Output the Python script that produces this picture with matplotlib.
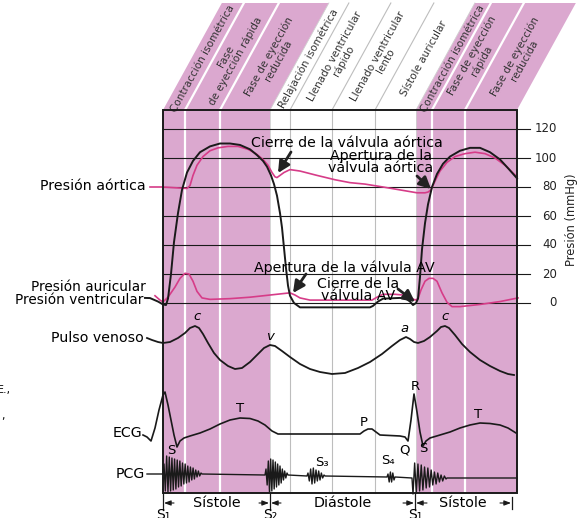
import numpy as np
import matplotlib
matplotlib.use("Agg")
import matplotlib.pyplot as plt
from matplotlib.patches import Polygon, Rectangle

plt.rcParams['font.family'] = ['DejaVu Sans']

# ---------------- data ----------------
pressure_ticks = [0, 20, 40, 60, 80, 100, 120]

# ventricular pressure (mmHg) vs time (px units of the time axis)
t_vent = [145, 150, 158, 163, 166, 168, 171, 174, 178, 182, 187, 193, 200, 210, 220, 230, 240, 250,
          257, 263, 267, 271, 274, 277, 280, 282, 284, 286, 288, 290, 294, 300, 370, 373, 378, 383,
          400, 406, 410, 413, 416, 418, 420, 422, 425, 428, 432, 437, 443, 450, 460, 470, 480, 490,
          500, 508, 517]
p_vent = [3.5, 3.4, 1.0, -1.0, -1.4, 3, 20, 42, 62, 78, 90, 98, 104, 108, 110, 110, 109, 106,
          102, 98, 94, 88, 82, 74, 62, 52, 38, 24, 12, 5, 0, -3, -3, -2, 1, 3,
          3.5, 3, 1, -1.4, 0, 3, 18, 37, 55, 68, 80, 89, 96, 101, 105, 107, 107, 104,
          99, 93, 86]

# aortic pressure (mmHg)
t_aor = [150, 163, 175, 187, 190, 193, 197, 203, 210, 218, 228, 238, 248, 256, 263, 268, 272, 275,
         277, 280, 284, 290, 300, 317, 335, 350, 365, 383, 400, 417, 425, 428, 431, 435, 440, 447,
         455, 465, 475, 485, 495, 505, 517]
p_aor = [80, 80, 79.5, 79, 81, 88, 95, 101, 105, 107, 108, 108, 106, 103, 99, 95, 90, 87,
         86.5, 88, 90, 92, 91, 88, 85, 83, 82, 80, 78, 76, 76, 76.5, 78, 84, 91, 97,
         101, 103, 104, 103, 100, 95, 87]

# atrial pressure (mmHg)
t_atr = [155, 160, 163, 168, 175, 180, 185, 189, 193, 197, 202, 210, 230, 250, 270, 290, 295, 300,
         310, 340, 372, 377, 383, 395, 403, 410, 415, 418, 421, 425, 429, 433, 437, 442, 447, 452,
         460, 480, 500, 518]
p_atr = [5, 2, 0.7, 4, 11, 17, 20.5, 20, 15, 8, 3.5, 2.5, 3, 4, 5.5, 7, 5.5, 3.5,
         2, 2, 2, 4, 6, 6, 5.5, 4, 2, 3, 9, 15, 17, 17, 15, 7, 0.5, -2.5,
         -2.5, -1, 1, 3.5]

# venous pulse (px above its baseline)
t_ven = [147, 152, 158, 163, 170, 178, 185, 190, 195, 199, 203, 208, 214, 220, 228, 235, 242, 250,
         258, 264, 270, 275, 282, 290, 300, 310, 320, 332, 345, 358, 370, 382, 392, 400, 406, 410,
         414, 418, 424, 430, 437, 441, 445, 449, 455, 462, 470, 480, 490, 500, 508, 514]
v_ven = [7, 5, 3, 2, 3, 7, 12, 17, 19, 17, 11, 2, -8, -15, -21, -24, -23, -17,
         -9, -3, 0, -1, -6, -12, -19, -24, -27, -29, -28, -23, -17, -9, -1, 5, 8, 6,
         3, 2, 4, 8, 14, 18, 19, 17, 10, 1, -7, -15, -21, -26, -29, -30]

# ECG (px above baseline)
t_ecg = [143, 147, 151, 155, 159, 163, 165, 168, 171, 174, 177, 180, 184, 190, 200, 210, 220, 230,
         240, 250, 258, 265, 272, 278, 360, 364, 368, 372, 376, 380, 400, 405, 408, 411, 414, 417,
         420, 423, 426, 430, 440, 450, 460, 470, 480, 490, 500, 508, 516]
v_ecg = [-1, -3, -7, 6, 24, 39, 42, 29, 14, -1, -13, -7, -4, -2, 1, 5, 10, 14,
         16, 15.5, 13, 9, 3, 0, 0, 3, 5, 5, 2, -1, -2, -3, -7, 14, 40, 22,
         2, -12, -7, -4, -1, 2, 6, 9, 11, 10.5, 9, 6, 1]

# PCG heart-sound bursts: (start, end, signed amplitudes in px, + = up)
pcg_bursts = {
    "S1": (163, 202, [10, -17, 18, -18, 17, -17, 16, -16, 15, -15, 14, -13, 13, -12, 11, -10, 10, -9,
                      8, -8, 7, -6, 6, -5, 4, -3, 3, -2, 1]),
    "S2": (265, 288, [6, -10, 14, -17, 16, -16, 15, -14, 13, -12, 11, -10, 9, -8, 6, -5, 4, -3, 2]),
    "S3": (307, 325, [3, -5, 7, -8, 8, -7, 6, -5, 5, -4, 3, -2, 1]),
    "S4": (387, 395, [3, -5, 5, -5, 4, -3]),
    "S1b": (412, 447, [-16, 15, -15, 14, -13, 13, -12, 11, -10, 10, -9, 8, -7, 6, -6, 5, -4, 3, -3, 2, -1]),
}
pcg_base = {"pre": 474, "S1": 474, "S2": 475, "S3": 476, "S4": 477, "S1b": 478}

phase_bounds = [163, 185, 220, 270, 290, 332, 375, 416, 432, 465, 517]
phase_pink = [True, True, True, False, False, False, False, True, True, True]
phase_labels = ["Contracción isométrica", "Fase\nde eyección rápida", "Fase de eyección\nreducida",
                "Relajación isométrica", "Llenado ventricular\nrápido", "Llenado ventricular\nlento",
                "Sístole auricular", "Contracción isométrica", "Fase de eyección\nrápida",
                "Fase de eyección\nreducida"]

# ---------------- layout ----------------
W, H = 579, 518
FL, FR, FT, FB = 163, 517, 110, 493       # frame
P0_Y, PX_PER_MMHG = 303, 1.45
VEN_BASE, ECG_BASE = 345, 434
HEAD_TOP, SLANT = 3, 0.55
PINK = "#dba8cf"
MAG = "#d63c88"
INK = "#1a1a1a"

def py(p):
    return P0_Y - PX_PER_MMHG * np.asarray(p, dtype=float)

fig = plt.figure(figsize=(W / 100, H / 100), dpi=100)
ax = fig.add_axes([0, 0, 1, 1])
ax.set_xlim(0, W)
ax.set_ylim(H, 0)
ax.axis("off")

# ---- slanted header + frame background
dx = (FT - HEAD_TOP) * SLANT
for i in range(len(phase_bounds) - 1):
    x0, x1 = phase_bounds[i], phase_bounds[i + 1]
    if phase_pink[i]:
        ax.add_patch(Polygon([(x0, FT), (x1, FT), (x1 + dx, HEAD_TOP), (x0 + dx, HEAD_TOP)],
                             closed=True, fc=PINK, ec="none", zorder=0))
        ax.add_patch(Rectangle((x0, FT), x1 - x0, FB - FT, fc=PINK, ec="none", zorder=0))

for i, xb in enumerate(phase_bounds[1:-1], start=1):
    pink_side = phase_pink[i - 1] and phase_pink[i]
    col = "white" if pink_side else "#bdbdbd"
    lw = 1.6 if pink_side else 0.8
    if xb in (270, 416):
        col, lw = "#d0d0d0", 0.6
    ax.plot([xb, xb + dx], [FT, HEAD_TOP], color=col, lw=lw, zorder=1)
    ax.plot([xb, xb], [FT, FB], color=col, lw=lw, zorder=1)

for i, lab in enumerate(phase_labels):
    x0, x1 = phase_bounds[i], phase_bounds[i + 1]
    ym = (FT + HEAD_TOP) / 2 + 2
    xm = (x0 + x1) / 2 + (FT - ym) * SLANT
    ax.text(xm, ym, lab, rotation=61, rotation_mode="anchor", ha="center", va="center",
            fontsize=7.5, color="#333333", linespacing=1.0, zorder=3)

# ---- frame
ax.add_patch(Rectangle((FL, FT), FR - FL, FB - FT, fc="none", ec=INK, lw=1.4, zorder=6))

# ---- pressure grid + ticks
for p in pressure_ticks:
    ax.plot([FL, 530], [py(p), py(p)], color=INK, lw=0.8, zorder=2)
    ax.text(557, py(p), str(p), ha="right", va="center", fontsize=8.5, color="#222222")
ax.text(571, 220, "Presión (mmHg)", rotation=90, ha="center", va="center", fontsize=8.3, color="#222222")

# ---- pressure curves
ax.plot(t_aor, py(p_aor), color=MAG, lw=1.2, zorder=4, solid_joinstyle="round")
ax.plot(t_atr, py(p_atr), color=MAG, lw=1.2, zorder=4, solid_joinstyle="round")
ax.plot(t_vent, py(p_vent), color=INK, lw=1.4, zorder=5, solid_joinstyle="round")

# ---- venous pulse
ax.plot(t_ven, VEN_BASE - np.asarray(v_ven), color=INK, lw=1.3, zorder=5, solid_joinstyle="round")

# ---- ECG
ax.plot(t_ecg, ECG_BASE - np.asarray(v_ecg), color=INK, lw=1.2, zorder=5, solid_joinstyle="round")

# ---- PCG
xs, ys = [147, 160], [pcg_base["pre"], pcg_base["pre"]]
for k in ["S1", "S2", "S3", "S4", "S1b"]:
    x0, x1, amps = pcg_bursts[k]
    b = pcg_base[k]
    xs.append(x0); ys.append(b)
    px = np.linspace(x0 + 1, x1 - 1, len(amps))
    xs.extend(px); ys.extend(b - np.asarray(amps))
    xs.append(x1); ys.append(b)
xs.append(FR); ys.append(pcg_base["S1b"])
ax.plot(xs, ys, color=INK, lw=1.0, zorder=5)

# ---- annotations with arrows
ann_fs = 10.2
akw = dict(arrowstyle="-|>,head_length=0.7,head_width=0.35", color="#222222", lw=2.0, shrinkA=0, shrinkB=0)
ax.text(347, 143, "Cierre de la válvula aórtica", ha="center", va="center", fontsize=ann_fs, zorder=7)
ax.annotate("", xy=(278, 173), xytext=(291, 152), arrowprops=akw, zorder=7)
ax.text(381, 162, "Apertura de la\nválvula aórtica", ha="center", va="center", fontsize=ann_fs,
        linespacing=0.85, zorder=7)
ax.annotate("", xy=(431, 189), xytext=(417, 176), arrowprops=akw, zorder=7)
ax.text(344, 268, "Apertura de la válvula AV", ha="center", va="center", fontsize=ann_fs, zorder=7)
ax.annotate("", xy=(293, 293), xytext=(306, 274), arrowprops=akw, zorder=7)
ax.text(358, 290, "Cierre de la\nválvula AV", ha="center", va="center", fontsize=ann_fs,
        linespacing=0.85, zorder=7)
ax.annotate("", xy=(415, 302), xytext=(398, 289), arrowprops=akw, zorder=7)

# ---- left labels
lab_fs = 10.2
ax.text(146, 186, "Presión aórtica", ha="right", va="center", fontsize=lab_fs)
ax.text(146, 287, "Presión auricular", ha="right", va="center", fontsize=9.8)
ax.text(143, 300, "Presión ventricular", ha="right", va="center", fontsize=9.8)
ax.text(144, 338, "Pulso venoso", ha="right", va="center", fontsize=lab_fs)
ax.text(142, 433, "ECG", ha="right", va="center", fontsize=lab_fs)
ax.text(145, 474, "PCG", ha="right", va="center", fontsize=lab_fs)
ax.text(-3, 390, "E.,", ha="left", va="center", fontsize=8)
ax.text(1, 416, ",", ha="left", va="center", fontsize=8)

# ---- wave letters
for (x, y, s) in [(197, 317, "c"), (270, 337, "v"), (405, 328, "a"), (445, 317, "c")]:
    ax.text(x, y, s, ha="center", va="center", fontsize=9.5, style="italic", zorder=7)
for (x, y, s) in [(240, 409, "T"), (364, 423, "P"), (415, 387, "R"), (478, 414, "T"),
                  (405, 450, "Q"), (171, 450, "S"), (423, 448, "S"), (322, 462, "S₃"), (388, 460, "S₄")]:
    ax.text(x, y, s, ha="center", va="center", fontsize=9.5, zorder=7)

# ---- bottom timing bar
bar_y = 503
for x in (163, 270, 415):
    ax.plot([x, x], [FB, 510], color=INK, lw=0.9)
ax.plot([512, 512], [497, 509], color=INK, lw=0.9)
arrows = [((174, bar_y), (164, bar_y)), ((259, bar_y), (269, bar_y)), ((281, bar_y), (271, bar_y)),
          ((403, bar_y), (414, bar_y)), ((427, bar_y), (416, bar_y)), ((500, bar_y), (511, bar_y))]
for a, b in arrows:
    ax.annotate("", xy=b, xytext=a,
                arrowprops=dict(arrowstyle="-|>,head_length=0.4,head_width=0.15", color=INK, lw=0.8,
                                shrinkA=0, shrinkB=0))
ax.text(217, bar_y, "Sístole", ha="center", va="center", fontsize=10.3)
ax.text(343, bar_y, "Diástole", ha="center", va="center", fontsize=10.3)
ax.text(463, bar_y, "Sístole", ha="center", va="center", fontsize=10.3)
for x, s in [(163, "S₁"), (270, "S₂"), (415, "S₁")]:
    ax.text(x, 508, s, ha="center", va="top", fontsize=10)

fig.savefig("out.png", dpi=100)
